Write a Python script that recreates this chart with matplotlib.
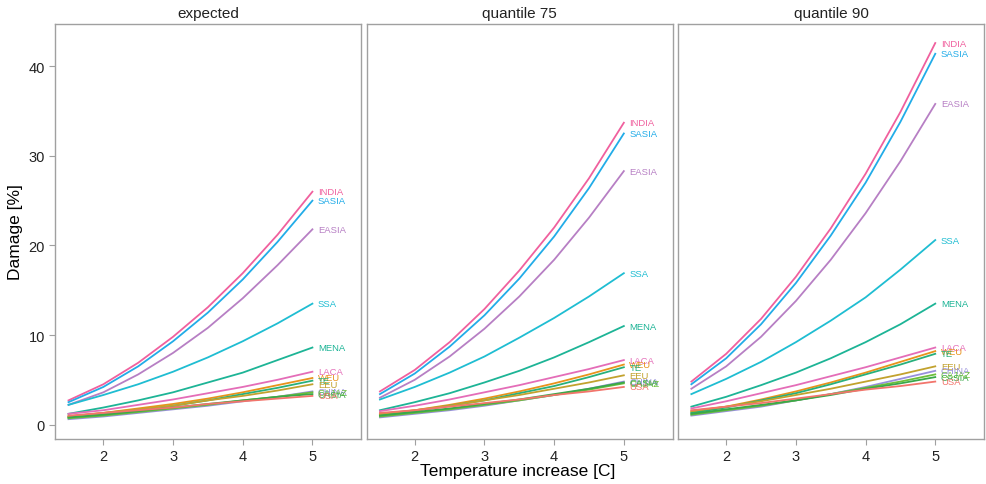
import matplotlib
matplotlib.use('Agg')
import matplotlib.pyplot as plt
import numpy as np

plt.rcParams['font.family'] = ['Liberation Sans', 'DejaVu Sans']

temps = [1.5, 2, 2.5, 3, 3.5, 4, 4.5, 5]
panels = ['expected', 'quantile 75', 'quantile 90']
regions = ['INDIA', 'SASIA', 'EASIA', 'SSA', 'MENA', 'LACA', 'WEU', 'TE',
           'EEU', 'CHINA', 'CAJAZ', 'CASIA', 'USA']

colors = {
    'INDIA': '#f0609e', 'SASIA': '#22ace8', 'EASIA': '#b77fc4', 'SSA': '#1fbdd2',
    'MENA': '#1db496', 'LACA': '#e46db8', 'WEU': '#e8931c', 'TE': '#28b07c',
    'EEU': '#c2a22e', 'CHINA': '#9890dc', 'CAJAZ': '#6cbf3a', 'CASIA': '#3aa84a',
    'USA': '#f2756c',
}

# damage [%] per region, one list per panel
expected = {
    'INDIA': [2.7, 4.5, 6.9, 9.8, 13.1, 16.9, 21.2, 26.0],
    'SASIA': [2.5, 4.2, 6.5, 9.3, 12.5, 16.2, 20.4, 25.0],
    'EASIA': [2.2, 3.6, 5.6, 8.0, 10.8, 14.1, 17.8, 21.8],
    'SSA':   [2.2, 3.3, 4.5, 5.9, 7.5, 9.3, 11.3, 13.5],
    'MENA':  [1.2, 1.9, 2.7, 3.6, 4.7, 5.8, 7.2, 8.6],
    'LACA':  [1.2, 1.6, 2.2, 2.8, 3.5, 4.2, 5.0, 5.9],
    'WEU':   [0.9, 1.3, 1.8, 2.3, 2.9, 3.6, 4.4, 5.2],
    'TE':    [0.8, 1.2, 1.6, 2.1, 2.7, 3.4, 4.1, 4.9],
    'EEU':   [0.9, 1.3, 1.7, 2.1, 2.7, 3.2, 3.8, 4.5],
    'CHINA': [0.6, 0.9, 1.3, 1.7, 2.1, 2.6, 3.1, 3.7],
    'CAJAZ': [0.7, 1.0, 1.4, 1.8, 2.2, 2.7, 3.1, 3.6],
    'CASIA': [0.8, 1.1, 1.5, 1.9, 2.3, 2.7, 3.1, 3.4],
    'USA':   [1.0, 1.3, 1.6, 1.9, 2.3, 2.6, 2.9, 3.2],
}
q75 = {
    'INDIA': [3.7, 6.1, 9.2, 12.9, 17.2, 22.0, 27.5, 33.7],
    'SASIA': [3.4, 5.7, 8.7, 12.2, 16.3, 21.0, 26.4, 32.5],
    'EASIA': [3.0, 5.0, 7.6, 10.7, 14.3, 18.4, 23.1, 28.3],
    'SSA':   [2.8, 4.2, 5.8, 7.6, 9.7, 11.9, 14.3, 16.9],
    'MENA':  [1.6, 2.5, 3.5, 4.7, 6.0, 7.5, 9.2, 11.0],
    'LACA':  [1.5, 2.1, 2.8, 3.6, 4.4, 5.3, 6.2, 7.2],
    'WEU':   [1.1, 1.6, 2.2, 2.9, 3.7, 4.6, 5.6, 6.7],
    'TE':    [1.0, 1.5, 2.1, 2.7, 3.5, 4.3, 5.3, 6.4],
    'EEU':   [1.2, 1.6, 2.1, 2.7, 3.3, 4.0, 4.7, 5.5],
    'CHINA': [0.8, 1.2, 1.6, 2.1, 2.7, 3.3, 4.0, 4.8],
    'CAJAZ': [0.9, 1.3, 1.7, 2.2, 2.7, 3.3, 3.9, 4.6],
    'CASIA': [1.0, 1.4, 1.8, 2.3, 2.8, 3.4, 4.0, 4.7],
    'USA':   [1.3, 1.6, 2.0, 2.4, 2.8, 3.3, 3.7, 4.2],
}
q90 = {
    'INDIA': [4.8, 7.9, 11.8, 16.5, 21.9, 28.0, 34.9, 42.6],
    'SASIA': [4.5, 7.4, 11.2, 15.8, 21.1, 27.0, 33.8, 41.4],
    'EASIA': [4.0, 6.5, 9.8, 13.8, 18.4, 23.6, 29.4, 35.8],
    'SSA':   [3.4, 5.1, 7.0, 9.2, 11.6, 14.2, 17.3, 20.6],
    'MENA':  [2.0, 3.1, 4.4, 5.8, 7.4, 9.2, 11.2, 13.5],
    'LACA':  [1.8, 2.6, 3.5, 4.4, 5.4, 6.4, 7.5, 8.6],
    'WEU':   [1.4, 2.0, 2.8, 3.7, 4.7, 5.8, 7.0, 8.2],
    'TE':    [1.3, 1.9, 2.7, 3.5, 4.5, 5.6, 6.7, 7.9],
    'EEU':   [1.5, 2.0, 2.6, 3.3, 4.0, 4.8, 5.6, 6.5],
    'CHINA': [1.0, 1.5, 2.0, 2.7, 3.4, 4.2, 5.1, 6.0],
    'CAJAZ': [1.1, 1.6, 2.1, 2.7, 3.4, 4.1, 4.8, 5.6],
    'CASIA': [1.2, 1.7, 2.2, 2.7, 3.3, 4.0, 4.6, 5.3],
    'USA':   [1.6, 2.0, 2.4, 2.9, 3.4, 3.9, 4.3, 4.8],
}
data = [expected, q75, q90]

fig, axes = plt.subplots(1, 3, figsize=(9.87, 4.85), dpi=100, sharey=True)
fig.subplots_adjust(left=0.056, right=0.997, top=0.948, bottom=0.093, wspace=0.018)

for i, (ax, title, d) in enumerate(zip(axes, panels, data)):
    for r in regions:
        ax.plot(temps, d[r], color=colors[r], linewidth=1.3)
        ax.text(5.08, d[r][-1], r, color=colors[r], fontsize=6.8,
                ha='left', va='center')
    ax.set_xlim(1.31, 5.7)
    ax.set_ylim(-1.6, 44.7)
    ax.set_xticks([2, 3, 4, 5])
    ax.set_yticks([0, 10, 20, 30, 40])
    ax.set_title(title, fontsize=11, pad=5, color='#222222')
    for s in ax.spines.values():
        s.set_color('#a0a0a0')
        s.set_linewidth(1.0)
    ax.tick_params(color='#a0a0a0', length=4, labelsize=10.5, labelcolor='#222222')
    if i > 0:
        ax.tick_params(axis='y', left=False, labelleft=False)

axes[0].set_ylabel('Damage [%]', fontsize=12.5)
fig.text(0.525, 0.018, 'Temperature increase [C]', ha='center', fontsize=12.5)

plt.savefig('out.png', dpi=100)
